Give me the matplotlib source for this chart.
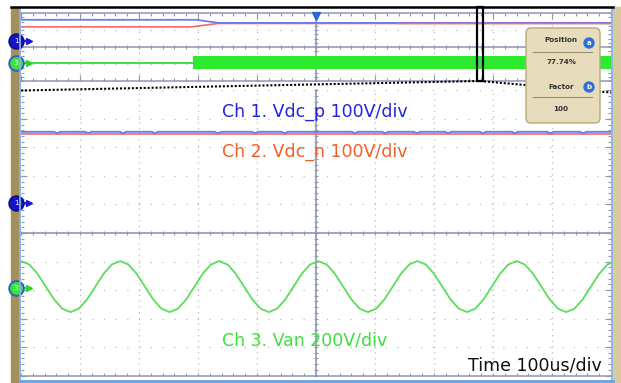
#!/usr/bin/env python
"""Scope capture: DC-link voltages and phase voltage with zoomed overview."""
import matplotlib

matplotlib.use("Agg")
import matplotlib.pyplot as plt
import numpy as np
from matplotlib.lines import Line2D
from matplotlib.markers import TICKDOWN, TICKLEFT, TICKRIGHT, TICKUP
from matplotlib.patches import Circle, FancyBboxPatch, Rectangle

W, H = 621, 383

# ---- values ----
# channel setup: marker offset (div) and scale (V/div)
ch1_offset_div, ch1_v_per_div = 1.05, 100
ch2_offset_div, ch2_v_per_div = 1.05, 100
ch3_offset_div, ch3_v_per_div = -1.93, 200

# zoomed window, 100 us/div, 0..1000 us
vdc_p_main_v = 250.0
vdc_n_main_v = 243.0
vdc_p_dip_us = [61, 114, 173, 227, 334, 397, 447, 566, 617, 671, 724, 783, 837, 897, 953]
vdc_p_dip_v = 4.0
van_dt_us = 14.0
van_main_v = [
    189, 165, 100, 10, -80, -145, -169, -145, -80, 10, 100, 165,
    189, 165, 100, 10, -80, -145, -169, -145, -80, 10, 100, 165,
    189, 165, 100, 10, -80, -145, -169, -145, -80, 10, 100, 165,
    189, 165, 100, 10, -80, -145, -169, -145, -80, 10, 100, 165,
    189, 165, 100, 10, -80, -145, -169, -145, -80, 10, 100, 165,
    189, 165, 100, 10, -80, -145, -169, -145, -80, 10, 100, 165,
    189,
]

# overview record, 0..100 ms
ov_vdc_p_ms = [0, 29.7, 33.4, 100]
ov_vdc_p_v = [292, 292, 250, 250]
ov_vdc_n_ms = [0, 29.0, 33.4, 100]
ov_vdc_n_v = [196, 196, 242, 242]
ov_vdc_n_front_ms = 63.7
ov_van_start_ms = 29.2
ov_van_peak_v = 179

zoom_position_pct = 77.74
zoom_factor = 100

labels = ["Ch 1. Vdc_p 100V/div", "Ch 2. Vdc_n 100V/div", "Ch 3. Van 200V/div", "Time 100us/div"]

GRID = "#8f96b4"
DOT = "#bdbdbd"
EDGE = "#86b2e4"
BLUE = "#6e7cf0"
RED = "#ef6a6a"
GREEN = "#5ade5a"


def pin(px, py):
    return px / 100.0, (H - py) / 100.0


def ticks_row(ax, pos, y, marker, size):
    ax.plot(pos, np.full(len(pos), y), ls="none", marker=marker, ms=size, mew=0.8,
            color=GRID, transform=ax.transAxes, clip_on=False, zorder=2)


def ticks_col(ax, pos, x, marker, size):
    ax.plot(np.full(len(pos), x), pos, ls="none", marker=marker, ms=size, mew=0.8,
            color=GRID, transform=ax.transAxes, clip_on=False, zorder=2)


def dotted(ax, xs, ys, gap):
    ax.plot(xs, ys, transform=ax.transAxes, color=DOT, lw=0.9, ls=(0, (1, gap)), zorder=1)


def solid(ax, xs, ys, color=GRID, lw=1.1):
    ax.plot(xs, ys, transform=ax.transAxes, color=color, lw=lw, zorder=2, clip_on=False)


def main_grid(ax):
    minor = np.linspace(0, 1, 51)
    major = np.linspace(0, 1, 11)
    for f in major[1:-1]:
        if abs(f - 0.5) < 1e-9:
            continue
        dotted(ax, [f, f], [0, 1], 3.6)
        dotted(ax, [0, 1], [f, f], 8.4)
    dotted(ax, [0, 1], [1, 1], 8.4)
    solid(ax, [0.5, 0.5], [0, 1], lw=1.2)
    solid(ax, [0, 1], [0.5, 0.5], lw=1.2)
    ticks_row(ax, minor, 0.5, "|", 3.5)
    ticks_col(ax, minor, 0.5, "_", 3.5)
    solid(ax, [0, 1], [0, 0])
    ticks_row(ax, minor, 0, TICKUP, 2.5)
    ticks_col(ax, minor, 0, TICKRIGHT, 2.5)
    ticks_col(ax, major, 0, TICKRIGHT, 4.5)
    ticks_col(ax, minor, 1, TICKLEFT, 2.5)
    ticks_col(ax, major, 1, TICKLEFT, 4.5)


def overview_grid(ax):
    minor = np.linspace(0, 1, 51)
    major = np.linspace(0, 1, 11)
    vert = np.linspace(0, 1, 17)
    for f in major[1:-1]:
        if abs(f - 0.5) < 1e-9:
            continue
        dotted(ax, [f, f], [0, 1], 4.5)
    for f in (0.25, 0.75):
        dotted(ax, [0, 1], [f, f], 8.4)
    for f in (0.0, 0.5, 1.0):
        solid(ax, [0, 1], [f, f])
    solid(ax, [0.5, 0.5], [0, 1])
    ticks_row(ax, minor, 1.0, TICKDOWN, 2.5)
    ticks_row(ax, major, 1.0, TICKDOWN, 4.5)
    ticks_row(ax, minor, 0.5, "|", 3.5)
    ticks_row(ax, minor, 0.0, TICKUP, 2.5)
    ticks_row(ax, major, 0.0, TICKUP, 4.5)
    ticks_col(ax, vert, 0.5, "_", 3.5)
    ticks_col(ax, vert, 0, TICKRIGHT, 2.5)
    ticks_col(ax, vert, 1, TICKLEFT, 2.5)


def channel_marker(ax, y, label, face, edge, arrow):
    tr = ax.get_yaxis_transform()
    x0 = (16 - 21) / 590.0
    ax.plot([0, 0.012], [y, y], color=arrow, lw=1.3, transform=tr, clip_on=False, zorder=6)
    ax.plot([0.013], [y], marker=">", ms=3.8, color=arrow, transform=tr, clip_on=False, zorder=6)
    ax.plot([x0], [y], marker="o", ms=10.5, mfc=face, mec=edge, mew=1.3, transform=tr,
            clip_on=False, zorder=7)
    ax.text(x0, y, label, color="white", fontsize=5, ha="center", va="center",
            transform=tr, zorder=8, clip_on=False)


fig = plt.figure(figsize=(W / 100, H / 100), dpi=100)
fig.patch.set_facecolor("white")

# frame of the scope screen
fig.add_artist(Rectangle(pin(11, 383), 0.08, 3.76, transform=fig.dpi_scale_trans,
                         color="#a58f5c", zorder=0))
fig.add_artist(Rectangle(pin(613, 383), 0.08, 3.76, transform=fig.dpi_scale_trans,
                         color="#d9caa0", zorder=0))
fig.add_artist(Line2D([0.2, 0.2], [0.0, 3.76], transform=fig.dpi_scale_trans, color=EDGE, lw=1.3))
fig.add_artist(Line2D([6.12, 6.12], [0.0, 3.76], transform=fig.dpi_scale_trans, color=EDGE, lw=1.3))
fig.add_artist(Line2D([0.11, 6.13], [3.76, 3.76], transform=fig.dpi_scale_trans, color="black", lw=1.8))
fig.add_artist(Line2D([0.2, 6.13], [0.02, 0.02], transform=fig.dpi_scale_trans, color="#64a2e6", lw=2.0))

ax_ov = fig.add_axes([21 / W, 1 - 81 / H, 590 / W, 68 / H])
ax = fig.add_axes([21 / W, 1 - 375.5 / H, 590 / W, 285 / H])
for a in (ax, ax_ov):
    a.set_axis_off()

# ---- overview ----
ax_ov.set_xlim(0, 100)
ax_ov.set_ylim(-4.4, 4.9)
overview_grid(ax_ov)

ov_p_y = ch1_offset_div + np.array(ov_vdc_p_v) / ch1_v_per_div
ov_n_y = ch2_offset_div + np.array(ov_vdc_n_v) / ch2_v_per_div
ax_ov.plot(ov_vdc_n_ms, ov_n_y, color=RED, lw=1.2, zorder=3)
ax_ov.plot(ov_vdc_p_ms, ov_p_y, color=BLUE, lw=1.3, zorder=4)
ax_ov.plot([ov_vdc_n_front_ms, ov_vdc_n_ms[-1]], [ov_n_y[-1], ov_n_y[-1]], color=RED, lw=1.0, zorder=5)

amp = ov_van_peak_v / ch3_v_per_div
ax_ov.plot([0, ov_van_start_ms], [ch3_offset_div, ch3_offset_div], color="#33dd33", lw=1.3, zorder=3)
ax_ov.fill_between([ov_van_start_ms, 100], ch3_offset_div - amp, ch3_offset_div + amp,
                   color="#2eea2e", lw=0, zorder=3)

channel_marker(ax_ov, ch1_offset_div, "1", "#1616c8", "#0c0c90", "#1a1ad0")
channel_marker(ax_ov, ch3_offset_div, "3", "#3be03b", "#2a5ad0", "#2ad42a")

# trigger marker and zoom window
ax_ov.plot([50], [0.955], marker="v", ms=5.5, color="#2a66d8", transform=ax_ov.get_xaxis_transform(),
           clip_on=False, zorder=8)
zw = 100.0 / zoom_factor
ax_ov.add_patch(Rectangle((zoom_position_pct - zw / 2, 0), zw, 74 / 68, fill=False, ec="black", lw=1.6,
                          transform=ax_ov.get_xaxis_transform(), clip_on=False, zorder=9))

# ---- zoomed window ----
ax.set_xlim(0, 1000)
ax.set_ylim(-5, 5)
main_grid(ax)

t_p, v_p = [0.0], [vdc_p_main_v]
for d in vdc_p_dip_us:
    t_p += [d - 5, d - 2, d + 2, d + 5]
    v_p += [vdc_p_main_v, vdc_p_main_v - vdc_p_dip_v, vdc_p_main_v - vdc_p_dip_v, vdc_p_main_v]
t_p.append(1000.0)
v_p.append(vdc_p_main_v)

ax.plot([0, 1000], [ch2_offset_div + vdc_n_main_v / ch2_v_per_div] * 2, color=RED, lw=1.2, zorder=3)
ax.plot(t_p, ch1_offset_div + np.array(v_p) / ch1_v_per_div, color=BLUE, lw=1.4, zorder=4)

t_van = np.arange(len(van_main_v)) * van_dt_us
ax.plot(t_van, ch3_offset_div + np.array(van_main_v) / ch3_v_per_div, color=GREEN, lw=1.3, zorder=4)

channel_marker(ax, ch1_offset_div, "1", "#1616c8", "#0c0c90", "#1a1ad0")
channel_marker(ax, ch3_offset_div, "3", "#3be03b", "#2a5ad0", "#2ad42a")

txt = dict(fontsize=12.5, va="baseline", ha="left", zorder=10)
ax.text(341, 4.07, labels[0], color="#2323e0", **txt)
ax.text(341, 2.67, labels[1], color="#f2602a", **txt)
ax.text(341, -3.93, labels[2], color="#3ce03c", **txt)
ax.text(758, -4.84, labels[3], color="#111111", **txt)

# dotted link from zoom window to the zoomed display
p0 = ax.transAxes.transform((0, 1))
p1 = ax_ov.transData.transform((zoom_position_pct, ax_ov.get_ylim()[0]))
p2 = ax.transAxes.transform((1, 0.993))
pts = fig.transFigure.inverted().transform(np.array([p0, p1, p2]))
fig.add_artist(Line2D(pts[:, 0], pts[:, 1], transform=fig.transFigure, color="black", lw=1.5,
                      ls=(0, (1, 0.9)), zorder=5))

# position / factor panel
bx0, by0 = pin(526, 123)
fig.add_artist(FancyBboxPatch((bx0, by0), 0.74, 0.95, boxstyle="round,pad=0,rounding_size=0.05",
                              transform=fig.dpi_scale_trans, fc="#e7ddbd", ec="#b7a878", lw=1.0, zorder=11))
for py in (52, 97):
    x_a, y_a = pin(533, py)
    fig.add_artist(Line2D([x_a, x_a + 0.59], [y_a, y_a], transform=fig.dpi_scale_trans,
                          color="#9a9070", lw=0.8, zorder=12))
panel = [("Position", 40), (f"{zoom_position_pct:.2f}%", 62), ("Factor", 87), (str(zoom_factor), 109)]
for s, py in panel:
    fig.text(*pin(561, py), s, transform=fig.dpi_scale_trans, fontsize=5.2, fontweight="bold",
             color="#333333", ha="center", va="center", zorder=13)
for s, py in (("a", 43), ("b", 87)):
    fig.add_artist(Circle(pin(589, py), 0.05, transform=fig.dpi_scale_trans, color="#2f6fd8", zorder=13))
    fig.text(*pin(589, py), s, transform=fig.dpi_scale_trans, fontsize=5, fontweight="bold",
             color="white", ha="center", va="center", zorder=14)

fig.savefig("out.png", dpi=100)
